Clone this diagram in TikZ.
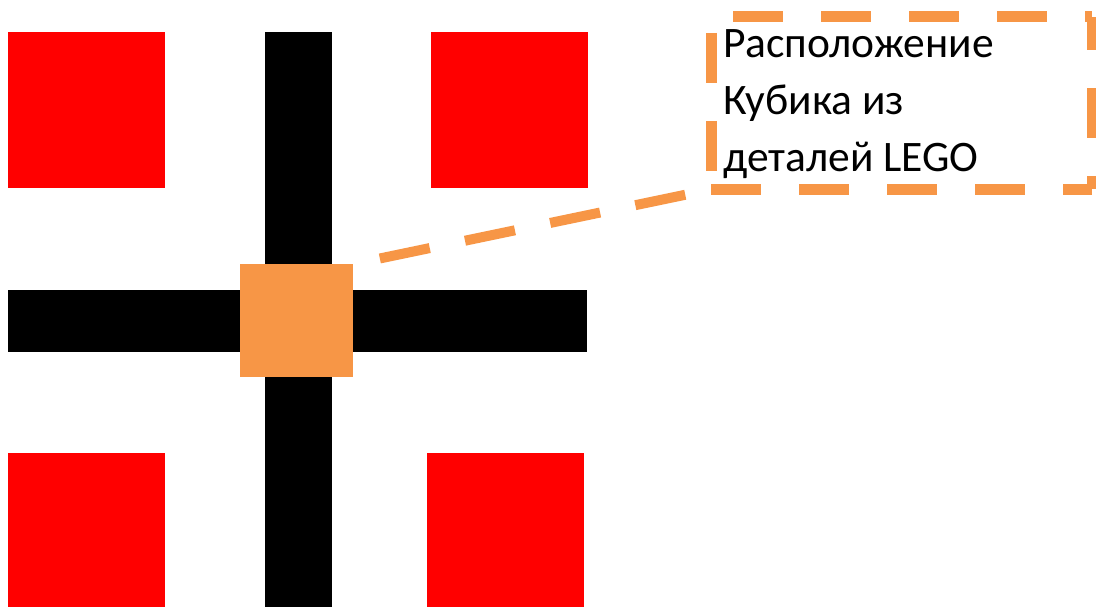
\documentclass[tikz,border=0pt]{standalone}
\usepackage{fontspec}
\setmainfont{Carlito}
\definecolor{lorange}{HTML}{F79646}
\definecolor{lred}{HTML}{FF0000}
\tikzset{
  redsq/.style={fill=lred, draw=none, inner sep=0pt, minimum width=157pt, minimum height=156pt, anchor=north west},
  bar/.style={fill=black, draw=none, inner sep=0pt, anchor=north west},
  cube/.style={fill=lorange, draw=none, inner sep=0pt, minimum width=113pt, minimum height=113pt, anchor=north west},
  calloutedge/.style={draw=lorange, line width=11pt, dash pattern=on 50pt off 38pt},
  leader/.style={draw=lorange, line width=10pt, dash pattern=on 51pt off 36pt, dash phase=60pt}
}
\begin{document}
\begin{tikzpicture}[x=1pt, y=-1pt]
\useasboundingbox (0,0) rectangle (1096,607);
% red squares
\node[redsq] (rtl) at (8,32) {};
\node[redsq] (rtr) at (431,32) {};
\node[redsq] (rbl) at (8,453) {};
\node[redsq] (rbr) at (427,453) {};
% black cross
\node[bar, minimum width=67pt, minimum height=575pt] (vbar) at (265,32) {};
\node[bar, minimum width=579pt, minimum height=62pt] (hbar) at (8,290) {};
% cube
\node[cube] (cube) at (240,264) {};
% callout box
\node[draw=none, inner sep=0pt, minimum width=381pt, minimum height=172pt, anchor=north west] (callout) at (711,17) {};
\draw[calloutedge, dash phase=66pt] (callout.north west) -- (callout.north east);
\draw[calloutedge, dash phase=0pt] (callout.south west) -- (callout.south east);
\draw[calloutedge, dash phase=72pt] (callout.north west) -- (callout.south west);
\draw[calloutedge, dash phase=17pt] (callout.north east) -- (callout.south east);
\node[anchor=north west, inner sep=0pt, align=left, font=\fontsize{43.5}{57}\selectfont] (label) at (723,29.3) {Расположение\\Кубика из\\деталей LEGO};
% leader line
\draw[leader] (cube.north east) -- (callout.south west);
\end{tikzpicture}
\end{document}
